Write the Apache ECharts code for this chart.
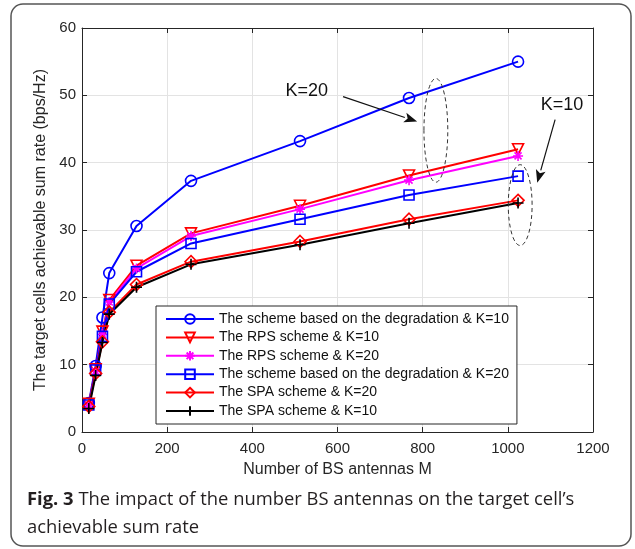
<!DOCTYPE html>
<html>
<head>
<meta charset="utf-8">
<script src="https://cdn.jsdelivr.net/npm/echarts@6/dist/echarts.min.js"></script>
<style>
  html, body { margin: 0; padding: 0; background: #fff; }
  #chart { width: 635px; height: 549px; }
</style>
</head>
<body>
<div id="chart"></div>
<script>
// number of BS antennas
const M = [16, 32, 48, 64, 128, 256, 512, 768, 1024];
// achievable sum rate (bps/Hz)
const degK10 = [4.3, 9.8, 17.0, 23.6, 30.6, 37.3, 43.2, 49.6, 55.0];
const rpsK10 = [4.2, 9.3, 14.9, 19.6, 24.7, 29.5, 33.6, 38.1, 42.0];
const rpsK20 = [4.0, 9.0, 14.5, 19.3, 24.3, 29.1, 33.1, 37.4, 41.0];
const degK20 = [4.0, 9.2, 14.2, 19.0, 23.8, 28.0, 31.6, 35.2, 38.0];
const spaK20 = [3.8, 8.7, 13.4, 17.8, 21.9, 25.3, 28.3, 31.6, 34.4];
const spaK10 = [3.5, 8.4, 13.3, 17.5, 21.5, 24.9, 27.8, 31.0, 34.0];
const names = [
  'The scheme based on the degradation & K=10',
  'The RPS scheme & K=10',
  'The RPS scheme & K=20',
  'The scheme based on the degradation & K=20',
  'The SPA scheme & K=20',
  'The SPA scheme & K=10'
];

const axisColor = '#262626';
const font = 'Arial, "Liberation Sans", sans-serif';
const PLUS = 'path://M5,0L5,10M0,5L10,5';
const STAR = 'path://M5,0L5,10M0,5L10,5M1.5,1.5L8.5,8.5M8.5,1.5L1.5,8.5';
const DIAMOND = 'path://M5,0L10,5L5,10L0,5Z';

function mk(name, vals, color, symbol, size, rot) {
  return {
    name: name,
    type: 'line',
    data: M.map((m, i) => [m, vals[i]]),
    color: color,
    symbol: symbol,
    symbolSize: size,
    symbolRotate: rot || 0,
    showAllSymbol: true,
    lineStyle: { width: 2, color: color },
    itemStyle: { color: 'rgba(255,255,255,0)', borderColor: color, borderWidth: 1.6 },
    emphasis: { disabled: true },
    animation: false
  };
}

const chart = echarts.init(document.getElementById('chart'));

const plain = v => String(v);
function ax(extra) {
  return Object.assign({
    type: 'value',
    axisLine: { show: true, onZero: false, lineStyle: { color: axisColor, width: 1 } },
    axisTick: { show: true, inside: true, length: 5, lineStyle: { color: axisColor } },
    axisLabel: { color: axisColor, fontSize: 15, fontFamily: font, formatter: plain },
    splitLine: { show: true, lineStyle: { color: '#e3e3e3', width: 1 } }
  }, extra);
}

chart.setOption({
  animation: false,
  grid: { left: 82, right: 42, top: 28, bottom: 117 },
  xAxis: [
    ax({
      min: 0, max: 1200, interval: 200,
      name: 'Number of BS antennas M', nameLocation: 'middle', nameGap: 30,
      nameTextStyle: { color: axisColor, fontSize: 16, fontFamily: font },
      axisLabel: { color: axisColor, fontSize: 15, fontFamily: font, margin: 9, formatter: plain }
    }),
    ax({
      min: 0, max: 1200, interval: 200, position: 'top',
      axisLabel: { show: false }, splitLine: { show: false }
    })
  ],
  yAxis: [
    ax({
      min: 0, max: 60, interval: 10,
      name: 'The target cells achievable sum rate (bps/Hz)', nameLocation: 'middle', nameGap: 28,
      nameTextStyle: { color: axisColor, fontSize: 16, fontFamily: font },
      axisLabel: { color: axisColor, fontSize: 15, fontFamily: font, margin: 6, formatter: plain }
    }),
    ax({
      min: 0, max: 60, interval: 10, position: 'right',
      axisLabel: { show: false }, splitLine: { show: false }
    })
  ],
  legend: {
    orient: 'vertical',
    left: 156, top: 306,
    padding: [6, 8, 6, 9],
    itemWidth: 48, itemHeight: 12, itemGap: 4.4,
    backgroundColor: '#fff',
    borderColor: axisColor, borderWidth: 1,
    textStyle: { color: '#111', fontSize: 14, fontFamily: font },
    data: names
  },
  series: [
    mk(names[0], degK10, '#0000ff', 'circle', 11),
    mk(names[1], rpsK10, '#ff0000', 'triangle', 11, 180),
    mk(names[2], rpsK20, '#ff00ff', STAR, 10),
    mk(names[3], degK20, '#0000ff', 'rect', 10),
    mk(names[4], spaK20, '#ff0000', DIAMOND, 12),
    mk(names[5], spaK10, '#000000', PLUS, 11)
  ]
});

// annotations placed in data coordinates
function px(x, y) { return chart.convertToPixel({ gridIndex: 0 }, [x, y]); }
function arrow(from, to) {
  const a = px(from[0], from[1]), b = px(to[0], to[1]);
  const dx = b[0] - a[0], dy = b[1] - a[1], L = Math.sqrt(dx * dx + dy * dy);
  const ux = dx / L, uy = dy / L, hl = 13, hw = 5;
  const bx = b[0] - ux * hl, by = b[1] - uy * hl;
  return [
    { type: 'line', shape: { x1: a[0], y1: a[1], x2: bx, y2: by }, style: { stroke: '#111', lineWidth: 1.2 }, z: 50 },
    { type: 'polygon', shape: { points: [b, [bx - uy * hw, by + ux * hw], [bx + ux * 3, by + uy * 3], [bx + uy * hw, by - ux * hw]] }, style: { fill: '#111' }, z: 50 }
  ];
}
function ellipse(cx, cy, rxData, ryData) {
  const c = px(cx, cy), e = px(cx + rxData, cy + ryData);
  return { type: 'ellipse', shape: { cx: c[0], cy: c[1], rx: Math.abs(e[0] - c[0]), ry: Math.abs(e[1] - c[1]) },
    style: { fill: null, stroke: '#333', lineWidth: 1, lineDash: [4, 3] }, z: 50 };
}
function label(text, x, y) {
  const p = px(x, y);
  return { type: 'text', x: p[0], y: p[1], z: 50,
    style: { text: text, fill: '#111', font: '18px ' + font, textAlign: 'center', textVerticalAlign: 'middle' } };
}

const capFont = '18.4px "Open Sans", sans-serif';
const g = [
  { type: 'rect', shape: { x: 11, y: 4, width: 620, height: 542, r: 12 }, style: { fill: null, stroke: '#555', lineWidth: 1.5 }, z: 60 },
  { type: 'text', x: 27, y: 500, z: 60,
    style: {
      text: '{b|Fig. 3} The impact of the number BS antennas on the target cell\u2019s',
      font: capFont, fill: '#231f20', textVerticalAlign: 'middle',
      rich: { b: { font: 'bold ' + capFont, fill: '#231f20' } }
    } },
  { type: 'text', x: 27, y: 528, z: 60,
    style: { text: 'achievable sum rate', font: capFont, fill: '#231f20', textVerticalAlign: 'middle' } },
  label('K=20', 728 - 200, 50.7),
  label('K=10', 1127, 48.6),
  ellipse(831, 44.8, 28, 7.7),
  ellipse(1029, 33.7, 28, 6)
].concat(arrow([613, 49.8], [787, 46.1])).concat(arrow([1111, 46.4], [1069, 37.0]));

chart.setOption({ graphic: g });
</script>
</body>
</html>
